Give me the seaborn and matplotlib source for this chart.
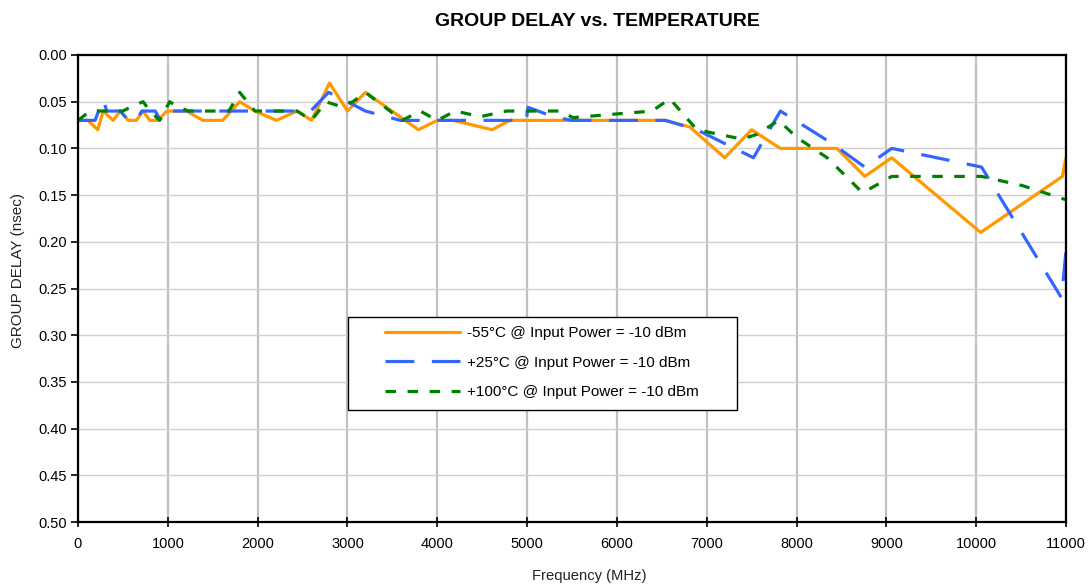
import matplotlib
matplotlib.use('Agg')
import matplotlib.pyplot as plt
import matplotlib.patches as mpatches
import seaborn as sns

# Group delay readings (nsec) vs frequency (MHz)
freq_m55 = [0, 110, 220, 280, 390, 470, 560, 650, 725, 800, 890, 990, 1210, 1390, 1610,
            1800, 1970, 2210, 2440, 2600, 2800, 3000, 3200, 3790, 4000, 4180, 4610, 4810,
            6540, 6810, 7200, 7500, 7820, 8450, 8760, 9060, 10050, 10960, 11000]
delay_m55 = [0.07, 0.07, 0.08, 0.06, 0.07, 0.06, 0.07, 0.07, 0.06, 0.07, 0.07, 0.06, 0.06, 0.07, 0.07,
             0.05, 0.06, 0.07, 0.06, 0.07, 0.03, 0.06, 0.04, 0.08, 0.07, 0.07, 0.08, 0.07,
             0.07, 0.077, 0.11, 0.08, 0.10, 0.10, 0.13, 0.11, 0.19, 0.13, 0.11]

freq_p25 = [0, 190, 280, 320, 470, 560, 650, 710, 860, 920, 990, 2590, 2790, 3000, 3200,
            3590, 4990, 5010, 5290, 5500, 6540, 6890, 7520, 7820, 8400, 8760, 9060, 10060,
            10950, 11000]
delay_p25 = [0.07, 0.07, 0.047, 0.06, 0.06, 0.07, 0.07, 0.06, 0.06, 0.07, 0.06, 0.06, 0.04, 0.05, 0.06,
             0.07, 0.07, 0.056, 0.066, 0.07, 0.07, 0.08, 0.11, 0.06, 0.095, 0.12, 0.10, 0.12,
             0.26, 0.21]

freq_p100 = [0, 135, 500, 600, 725, 800, 910, 1020, 1100, 1230, 1680, 1800, 1970, 2440, 2600,
             2760, 2920, 3060, 3200, 3610, 3810, 4000, 4200, 4480, 4770, 5370, 5510, 6390,
             6590, 6890, 7390, 7560, 7800, 8000, 8340, 8520, 8730, 8820, 9060, 10060, 10520, 11000]
delay_p100 = [0.07, 0.06, 0.06, 0.055, 0.05, 0.06, 0.07, 0.05, 0.055, 0.06, 0.06, 0.04, 0.06, 0.06, 0.07,
              0.05, 0.055, 0.05, 0.04, 0.07, 0.06, 0.07, 0.06, 0.066, 0.06, 0.06, 0.067, 0.06,
              0.047, 0.08, 0.09, 0.085, 0.07, 0.088, 0.11, 0.127, 0.147, 0.143, 0.13, 0.13, 0.14, 0.155]

labels = ['-55°C @ Input Power = -10 dBm',
          '+25°C @ Input Power = -10 dBm',
          '+100°C @ Input Power = -10 dBm']

sns.set_style('white')
plt.rcParams['font.family'] = ['Liberation Sans', 'DejaVu Sans']
plt.rcParams['text.color'] = 'black'

W, H = 1089, 587
fig = plt.figure(figsize=(W / 100, H / 100), dpi=100)
ax = fig.add_axes([78 / W, 65 / H, 988 / W, 467 / H])

sns.lineplot(x=freq_m55, y=delay_m55, sort=False, estimator=None, ax=ax,
             color='#FF9900', linewidth=2.3, label=labels[0])
sns.lineplot(x=freq_p25, y=delay_p25, sort=False, estimator=None, ax=ax,
             color='#3366FF', linewidth=2.3, linestyle=(0, (9, 5.5)), label=labels[1])
sns.lineplot(x=freq_p100, y=delay_p100, sort=False, estimator=None, ax=ax,
             color='#008000', linewidth=2.3, linestyle=(0, (3.3, 3.6)), label=labels[2])

ax.set_xlim(0, 11000)
ax.set_ylim(0.5, 0.0)
ax.set_xticks(range(0, 11001, 1000))
ax.set_yticks([i * 0.05 for i in range(11)])
ax.set_yticklabels([f'{i * 0.05:.2f}' for i in range(11)])

# grid: darker verticals, light horizontals
ax.xaxis.grid(True, color='#c0c0c0', linewidth=1.6)
ax.yaxis.grid(True, color='#d0d0d0', linewidth=1.0)
ax.set_axisbelow(True)

for sp in ax.spines.values():
    sp.set_color('black')
    sp.set_linewidth(1.6)
    sp.set_visible(True)

ax.tick_params(axis='y', direction='out', length=5, width=1.2, pad=3,
               labelsize=10.5, labelcolor='black', color='black', left=True)
ax.tick_params(axis='x', direction='inout', length=7, width=1.2, pad=7,
               labelsize=10.5, labelcolor='black', color='black', bottom=True)

ax.set_xlabel('')
ax.set_ylabel('')
fig.text(597 / W, 1 - 21 / H, 'GROUP DELAY vs. TEMPERATURE', ha='center', va='center',
         fontsize=14, fontweight='bold', color='black')
fig.text(18 / W, 1 - 270 / H, 'GROUP DELAY (nsec)', rotation=90, ha='center', va='center',
         fontsize=11, color='#222222')
fig.text(589 / W, 1 - 576 / H, 'Frequency (MHz)', ha='center', va='center', fontsize=10.6,
         color='#222222')

# legend box drawn separately so the padding matches the original
box = mpatches.Rectangle((348 / W, 1 - 410 / H), 389 / W, 93 / H, transform=fig.transFigure,
                         facecolor='white', edgecolor='black', linewidth=1.0,
                         zorder=4, clip_on=False)
ax.add_patch(box)
leg = ax.legend(loc='upper left', bbox_to_anchor=(385 / W, 1 - 326 / H),
                bbox_transform=fig.transFigure, fontsize=11, handlelength=4.9,
                handletextpad=0.45, borderpad=0, borderaxespad=0, labelspacing=1.02,
                frameon=False)
for t in leg.get_texts():
    t.set_color('black')
leg.set_zorder(5)

fig.savefig('out.png', dpi=100)
